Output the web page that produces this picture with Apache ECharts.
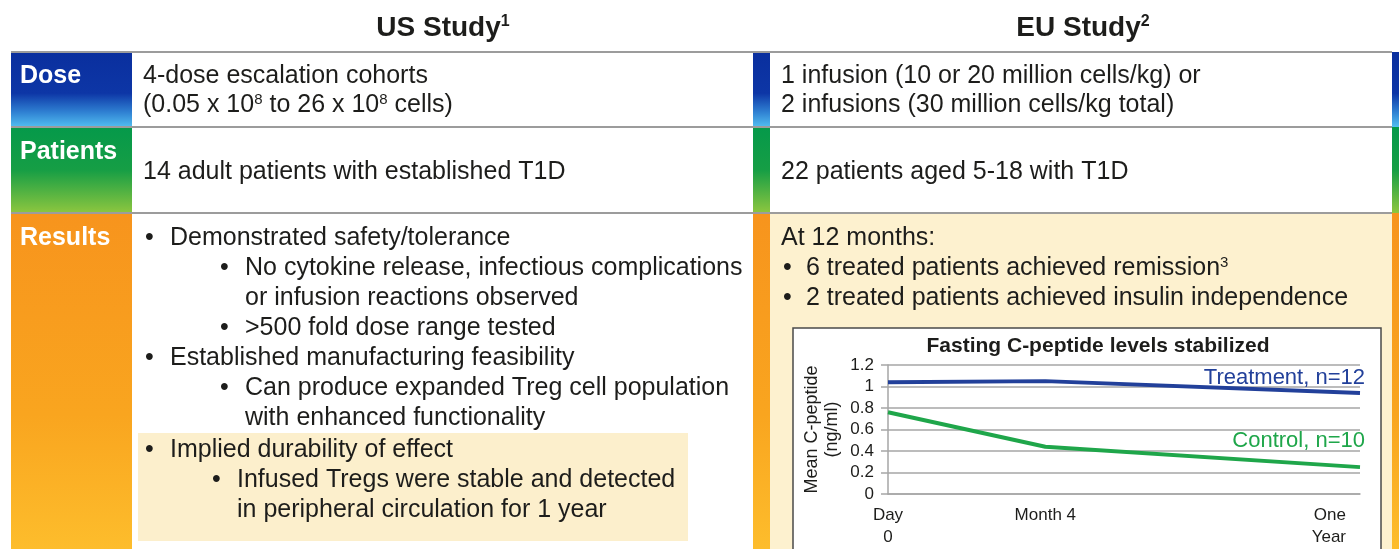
<!DOCTYPE html>
<html>
<head>
<meta charset="utf-8">
<title>US Study / EU Study</title>
<script src="https://cdn.jsdelivr.net/npm/echarts@6/dist/echarts.min.js"></script>
<style>
html, body { margin: 0; padding: 0; background: #fff; }
#main { width: 1399px; height: 549px; }
</style>
</head>
<body>
<div id="main"></div>
<script>
// chart data (months after first infusion)
const months = [0, 4, 12]
const treatment = [1.04, 1.05, 0.94]
const control = [0.76, 0.44, 0.25]
const monthLabels = { 0: 'Day\n0', 4: 'Month 4', 12: '{r|One}\n{r|Year}' }
const seriesNames = ['Treatment, n=12', 'Control, n=10']
const chartTitle = 'Fasting C-peptide levels stabilized'
const yName = 'Mean C-peptide\n(ng/ml)'

// table text
const studyTitles = ['US Study{sup|1}', 'EU Study{sup|2}']
const rowLabels = ['Dose', 'Patients', 'Results']
const usDose = ['4-dose escalation cohorts', '(0.05 x 10{sup|8} to 26 x 10{sup|8} cells)']
const euDose = ['1 infusion (10 or 20 million cells/kg) or', '2 infusions (30 million cells/kg total)']
const usPatients = '14 adult patients with established T1D'
const euPatients = '22 patients aged 5-18 with T1D'
// [indent level, has bullet, text]
const usResults = [
  [1, true, 'Demonstrated safety/tolerance'],
  [2, true, 'No cytokine release, infectious complications'],
  [2, false, 'or infusion reactions observed'],
  [2, true, '>500 fold dose range tested'],
  [1, true, 'Established manufacturing feasibility'],
  [2, true, 'Can produce expanded Treg cell population'],
  [2, false, 'with enhanced functionality'],
  [1, true, 'Implied durability of effect'],
  [3, true, 'Infused Tregs were stable and detected'],
  [3, false, 'in peripheral circulation for 1 year']
]
const euResults = [
  [0, false, 'At 12 months:'],
  [1, true, '6 treated patients achieved remission{sup|3}'],
  [1, true, '2 treated patients achieved insulin independence']
]

const FONT = '"Liberation Sans", Arial, Helvetica, sans-serif'
const INK = '#1d1d1b'
const BLUE = '#22409a'
const GREEN = '#1fa64a'

function grad(stops) {
  return new echarts.graphic.LinearGradient(0, 0, 0, 1, stops.map(s => ({ offset: s[0], color: s[1] })))
}
const doseGrad = () => grad([[0, '#0a2f9e'], [0.55, '#0d36a6'], [0.8, '#2f80d2'], [1, '#52bef0']])
const patGrad = () => grad([[0, '#05994a'], [0.5, '#169e45'], [1, '#8dc63f']])
const resGrad = () => grad([[0, '#f7941d'], [0.6, '#f9a51f'], [1, '#fdbd2c']])

const els = []
function rect(x, y, w, h, style) {
  els.push({ type: 'rect', shape: { x, y, width: w, height: h }, style })
}
function hline(x1, x2, y) {
  els.push({ type: 'line', shape: { x1, y1: y, x2, y2: y }, style: { stroke: '#9c9c9c', lineWidth: 2 } })
}
function text(x, y, str, opt) {
  els.push({
    type: 'text', x, y,
    style: Object.assign({
      text: str, fontFamily: FONT, fontSize: 25, fill: INK,
      verticalAlign: 'middle', align: 'left',
      rich: { sup: { fontFamily: FONT, fontSize: 15, fill: INK, verticalAlign: 'top' } }
    }, opt || {})
  })
}

// row geometry
const rows = [[52, 127], [127, 213], [213, 549]]
const grads = [doseGrad, patGrad, resGrad]
rows.forEach((r, i) => {
  rect(11, r[0], 121, r[1] - r[0], { fill: grads[i]() })
  rect(753, r[0], 17, r[1] - r[0], { fill: grads[i]() })
  rect(1392, r[0], 10, r[1] - r[0], { fill: grads[i]() })
})
// EU results background + US highlight
rect(770, 214, 622, 335, { fill: '#fdf1cf' })
rect(138, 433, 550, 108, { fill: '#fcefcc' })

hline(11, 1392, 52)
hline(11, 1392, 127)
hline(11, 1392, 213)

// headings
const headSup = { sup: { fontFamily: FONT, fontSize: 16, fontWeight: 'bold', fill: INK, verticalAlign: 'top' } }
text(443, 28, studyTitles[0], { fontSize: 28, fontWeight: 'bold', align: 'center', rich: headSup })
text(1083, 28, studyTitles[1], { fontSize: 28, fontWeight: 'bold', align: 'center', rich: headSup })

// row labels
const labelY = [76, 152, 238]
rowLabels.forEach((l, i) => text(20, labelY[i], l, { fill: '#fff', fontWeight: 'bold' }))

// dose / patients
usDose.forEach((l, i) => text(143, 76 + i * 29, l))
euDose.forEach((l, i) => text(781, 76 + i * 29, l))
text(143, 172, usPatients)
text(781, 172, euPatients)

// US results bullets
const bulletX = { 1: 145, 2: 220, 3: 212 }
const textX = { 1: 170, 2: 245, 3: 237 }
usResults.forEach((r, i) => {
  const y = 238 + i * 30 + (i >= 7 ? 2 : 0)
  if (r[1]) text(bulletX[r[0]], y, '\u2022')
  text(textX[r[0]], y, r[2])
})
// EU results bullets
euResults.forEach((r, i) => {
  const y = 238 + i * 30
  if (r[1]) text(783, y, '\u2022')
  text(r[0] ? 806 : 781, y, r[2])
})

// chart frame
rect(793, 328, 588, 240, { fill: '#fff', stroke: '#4a4a4a', lineWidth: 1.5 })
text(1098, 346, chartTitle, { fontSize: 21, fontWeight: 'bold', align: 'center' })

const chart = echarts.init(document.getElementById('main'))
chart.setOption({
  animation: false,
  graphic: { elements: els },
  grid: { left: 888, right: 39, top: 365, bottom: 55, outerBoundsMode: 'none' },
  xAxis: {
    type: 'value', min: 0, max: 12, interval: 4, z: 5,
    axisLine: { show: true, lineStyle: { color: '#a6a6a6', width: 1.5 } },
    axisTick: { show: false },
    splitLine: { show: false },
    axisLabel: {
      formatter: v => monthLabels[v] || '',
      fontFamily: FONT, fontSize: 17, color: INK, lineHeight: 22, margin: 10,
      alignMaxLabel: 'right',
      rich: { r: { fontFamily: FONT, fontSize: 17, color: INK, lineHeight: 22, padding: [0, 14, 0, 0] } }
    }
  },
  yAxis: {
    type: 'value', min: 0, max: 1.2, interval: 0.2, z: 5,
    name: yName, nameLocation: 'middle', nameRotate: 90, nameGap: 46,
    nameTextStyle: { fontFamily: FONT, fontSize: 18, color: INK, lineHeight: 20 },
    axisLine: { show: true, lineStyle: { color: '#a6a6a6', width: 1.5 } },
    axisTick: { show: true, length: 7, lineStyle: { color: '#a6a6a6', width: 1.5 } },
    axisLabel: { fontFamily: FONT, fontSize: 17, color: INK, margin: 14 },
    splitLine: { show: true, lineStyle: { color: '#a6a6a6', width: 1.5 } }
  },
  series: [
    {
      type: 'line', name: seriesNames[0], z: 6,
      data: months.map((m, i) => [m, treatment[i]]),
      symbol: 'none',
      lineStyle: { color: BLUE, width: 4 },
      endLabel: {
        show: true, formatter: seriesNames[0], align: 'right', distance: 5, offset: [0, -15],
        fontFamily: FONT, fontSize: 22, color: BLUE
      }
    },
    {
      type: 'line', name: seriesNames[1], z: 6,
      data: months.map((m, i) => [m, control[i]]),
      symbol: 'none',
      lineStyle: { color: GREEN, width: 4 },
      endLabel: {
        show: true, formatter: seriesNames[1], align: 'right', distance: 5, offset: [0, -26],
        fontFamily: FONT, fontSize: 22, color: GREEN
      }
    }
  ]
})
</script>
</body>
</html>
